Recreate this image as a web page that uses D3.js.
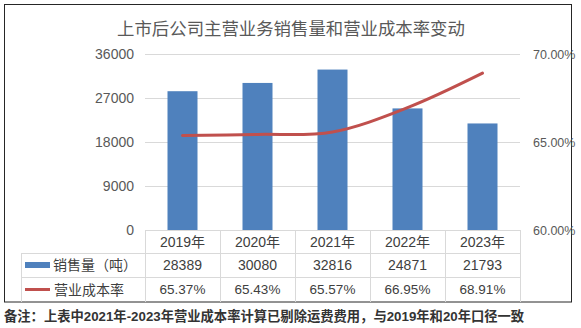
<!DOCTYPE html>
<html><head><meta charset="utf-8">
<script src="https://cdn.jsdelivr.net/npm/d3@7"></script>
<style>
html,body{margin:0;padding:0;background:#fff;}
text{font-family:"Liberation Sans","Noto Sans CJK SC",sans-serif;}
</style></head>
<body><svg id="c" width="581" height="328"></svg>
<script>
const title = "上市后公司主营业务销售量和营业成本率变动";
const years = ["2019年","2020年","2021年","2022年","2023年"];
const sales = [28389, 30080, 32816, 24871, 21793];
const costRate = [65.37, 65.43, 65.57, 66.95, 68.91];
const leftTicks = [0, 9000, 18000, 27000, 36000];
const rightTicks = [60, 65, 70];
const seriesNames = ["销售量（吨）", "营业成本率"];
const note = "备注：上表中2021年-2023年营业成本率计算已剔除运费费用，与2019年和20年口径一致";

const svg = d3.select("#c");
const plotL = 145, plotR = 520, plotT = 54, plotB = 230;
const tableL = 21, rowH = [230, 253, 277, 302];

// chart border
svg.append("rect").attr("x",4.5).attr("y",4.5).attr("width",567).attr("height",297.5)
  .attr("fill","#fff").attr("stroke","#262626").attr("stroke-width",1);

svg.append("text").attr("x",291).attr("y",35).attr("text-anchor","middle")
  .attr("font-size",17.4).attr("fill","#595959").text(title);

const xc = d3.scaleBand().domain(years).range([plotL, plotR]);
const yL = d3.scaleLinear().domain([0, 36000]).range([plotB, plotT]);
const yR = d3.scaleLinear().domain([60, 70]).range([plotB, plotT]);

// gridlines
svg.append("g").selectAll("line").data(leftTicks.filter(d=>d>0)).join("line")
  .attr("x1",plotL).attr("x2",plotR).attr("y1",d=>yL(d)+0.5).attr("y2",d=>yL(d)+0.5)
  .attr("stroke","#d9d9d9").attr("stroke-width",1);

// left axis
const la = svg.append("g").attr("transform",`translate(${plotL},0)`)
  .call(d3.axisLeft(yL).tickValues(leftTicks).tickSize(0).tickPadding(11).tickFormat(d3.format("d")));
la.select(".domain").remove();
la.selectAll("text").attr("font-size",14).attr("fill","#595959").attr("dy","0.35em");

// right axis
const ra = svg.append("g").attr("transform",`translate(${plotR},0)`)
  .call(d3.axisRight(yR).tickValues(rightTicks).tickSize(0).tickPadding(13).tickFormat(d=>d.toFixed(2)+"%"));
ra.select(".domain").remove();
ra.selectAll("text").attr("font-size",12.5).attr("fill","#595959").attr("dy","0.35em");

// bars
svg.append("g").selectAll("rect").data(sales).join("rect")
  .attr("x",(d,i)=>xc(years[i]) + xc.bandwidth()*0.3)
  .attr("width",xc.bandwidth()*0.4)
  .attr("y",d=>yL(d)).attr("height",d=>plotB-yL(d))
  .attr("fill","#4f81bd");

// line
const line = d3.line().x((d,i)=>xc(years[i])+xc.bandwidth()/2).y(d=>yR(d)).curve(d3.curveCardinal.tension(0));
svg.append("path").datum(costRate).attr("d",line).attr("fill","none")
  .attr("stroke","#c0504d").attr("stroke-width",3).attr("stroke-linecap","round");

// table
const tg = svg.append("g");
const gridC = "#d9d9d9";
tg.append("line").attr("x1",plotL).attr("x2",plotR).attr("y1",rowH[0]+0.5).attr("y2",rowH[0]+0.5).attr("stroke",gridC);
[rowH[1],rowH[2]].forEach(y=>tg.append("line").attr("x1",tableL).attr("x2",plotR).attr("y1",y+0.5).attr("y2",y+0.5).attr("stroke",gridC));
years.forEach((yy,i)=>{
  tg.append("line").attr("x1",xc(yy)+0.5).attr("x2",xc(yy)+0.5).attr("y1",rowH[0]).attr("y2",rowH[3]).attr("stroke",gridC);
});
tg.append("line").attr("x1",plotR+0.5).attr("x2",plotR+0.5).attr("y1",rowH[0]).attr("y2",rowH[3]).attr("stroke",gridC);
tg.append("line").attr("x1",tableL+0.5).attr("x2",tableL+0.5).attr("y1",rowH[1]).attr("y2",rowH[3]).attr("stroke",gridC);

const cy = i => (rowH[i]+rowH[i+1])/2;
tg.selectAll("text.yr").data(years).join("text").attr("class","yr")
  .attr("x",d=>xc(d)+xc.bandwidth()/2).attr("y",cy(0)).attr("dy","0.36em")
  .attr("text-anchor","middle").attr("font-size",14).attr("fill","#404040").text(d=>d);
tg.selectAll("text.sv").data(sales).join("text").attr("class","sv")
  .attr("x",(d,i)=>xc(years[i])+xc.bandwidth()/2).attr("y",cy(1)).attr("dy","0.36em")
  .attr("text-anchor","middle").attr("font-size",14).attr("fill","#404040").text(d=>d);
tg.selectAll("text.cv").data(costRate).join("text").attr("class","cv")
  .attr("x",(d,i)=>xc(years[i])+xc.bandwidth()/2).attr("y",cy(2)).attr("dy","0.36em")
  .attr("text-anchor","middle").attr("font-size",13.5).attr("fill","#404040").text(d=>d.toFixed(2)+"%");

// legend keys
tg.append("rect").attr("x",25).attr("y",cy(1)-3).attr("width",25).attr("height",6).attr("fill","#4f81bd");
tg.append("line").attr("x1",25).attr("x2",50).attr("y1",cy(2)).attr("y2",cy(2)).attr("stroke","#c0504d").attr("stroke-width",3);
tg.append("text").attr("x",53).attr("y",cy(1)).attr("dy","0.36em").attr("font-size",14).attr("fill","#404040").text(seriesNames[0]);
tg.append("text").attr("x",54).attr("y",cy(2)).attr("dy","0.36em").attr("font-size",14).attr("fill","#404040").text(seriesNames[1]);

// note
svg.append("text").attr("x",4).attr("y",321).attr("font-size",13.3).attr("font-weight","bold")
  .attr("fill","#333").text(note);
</script></body></html>
